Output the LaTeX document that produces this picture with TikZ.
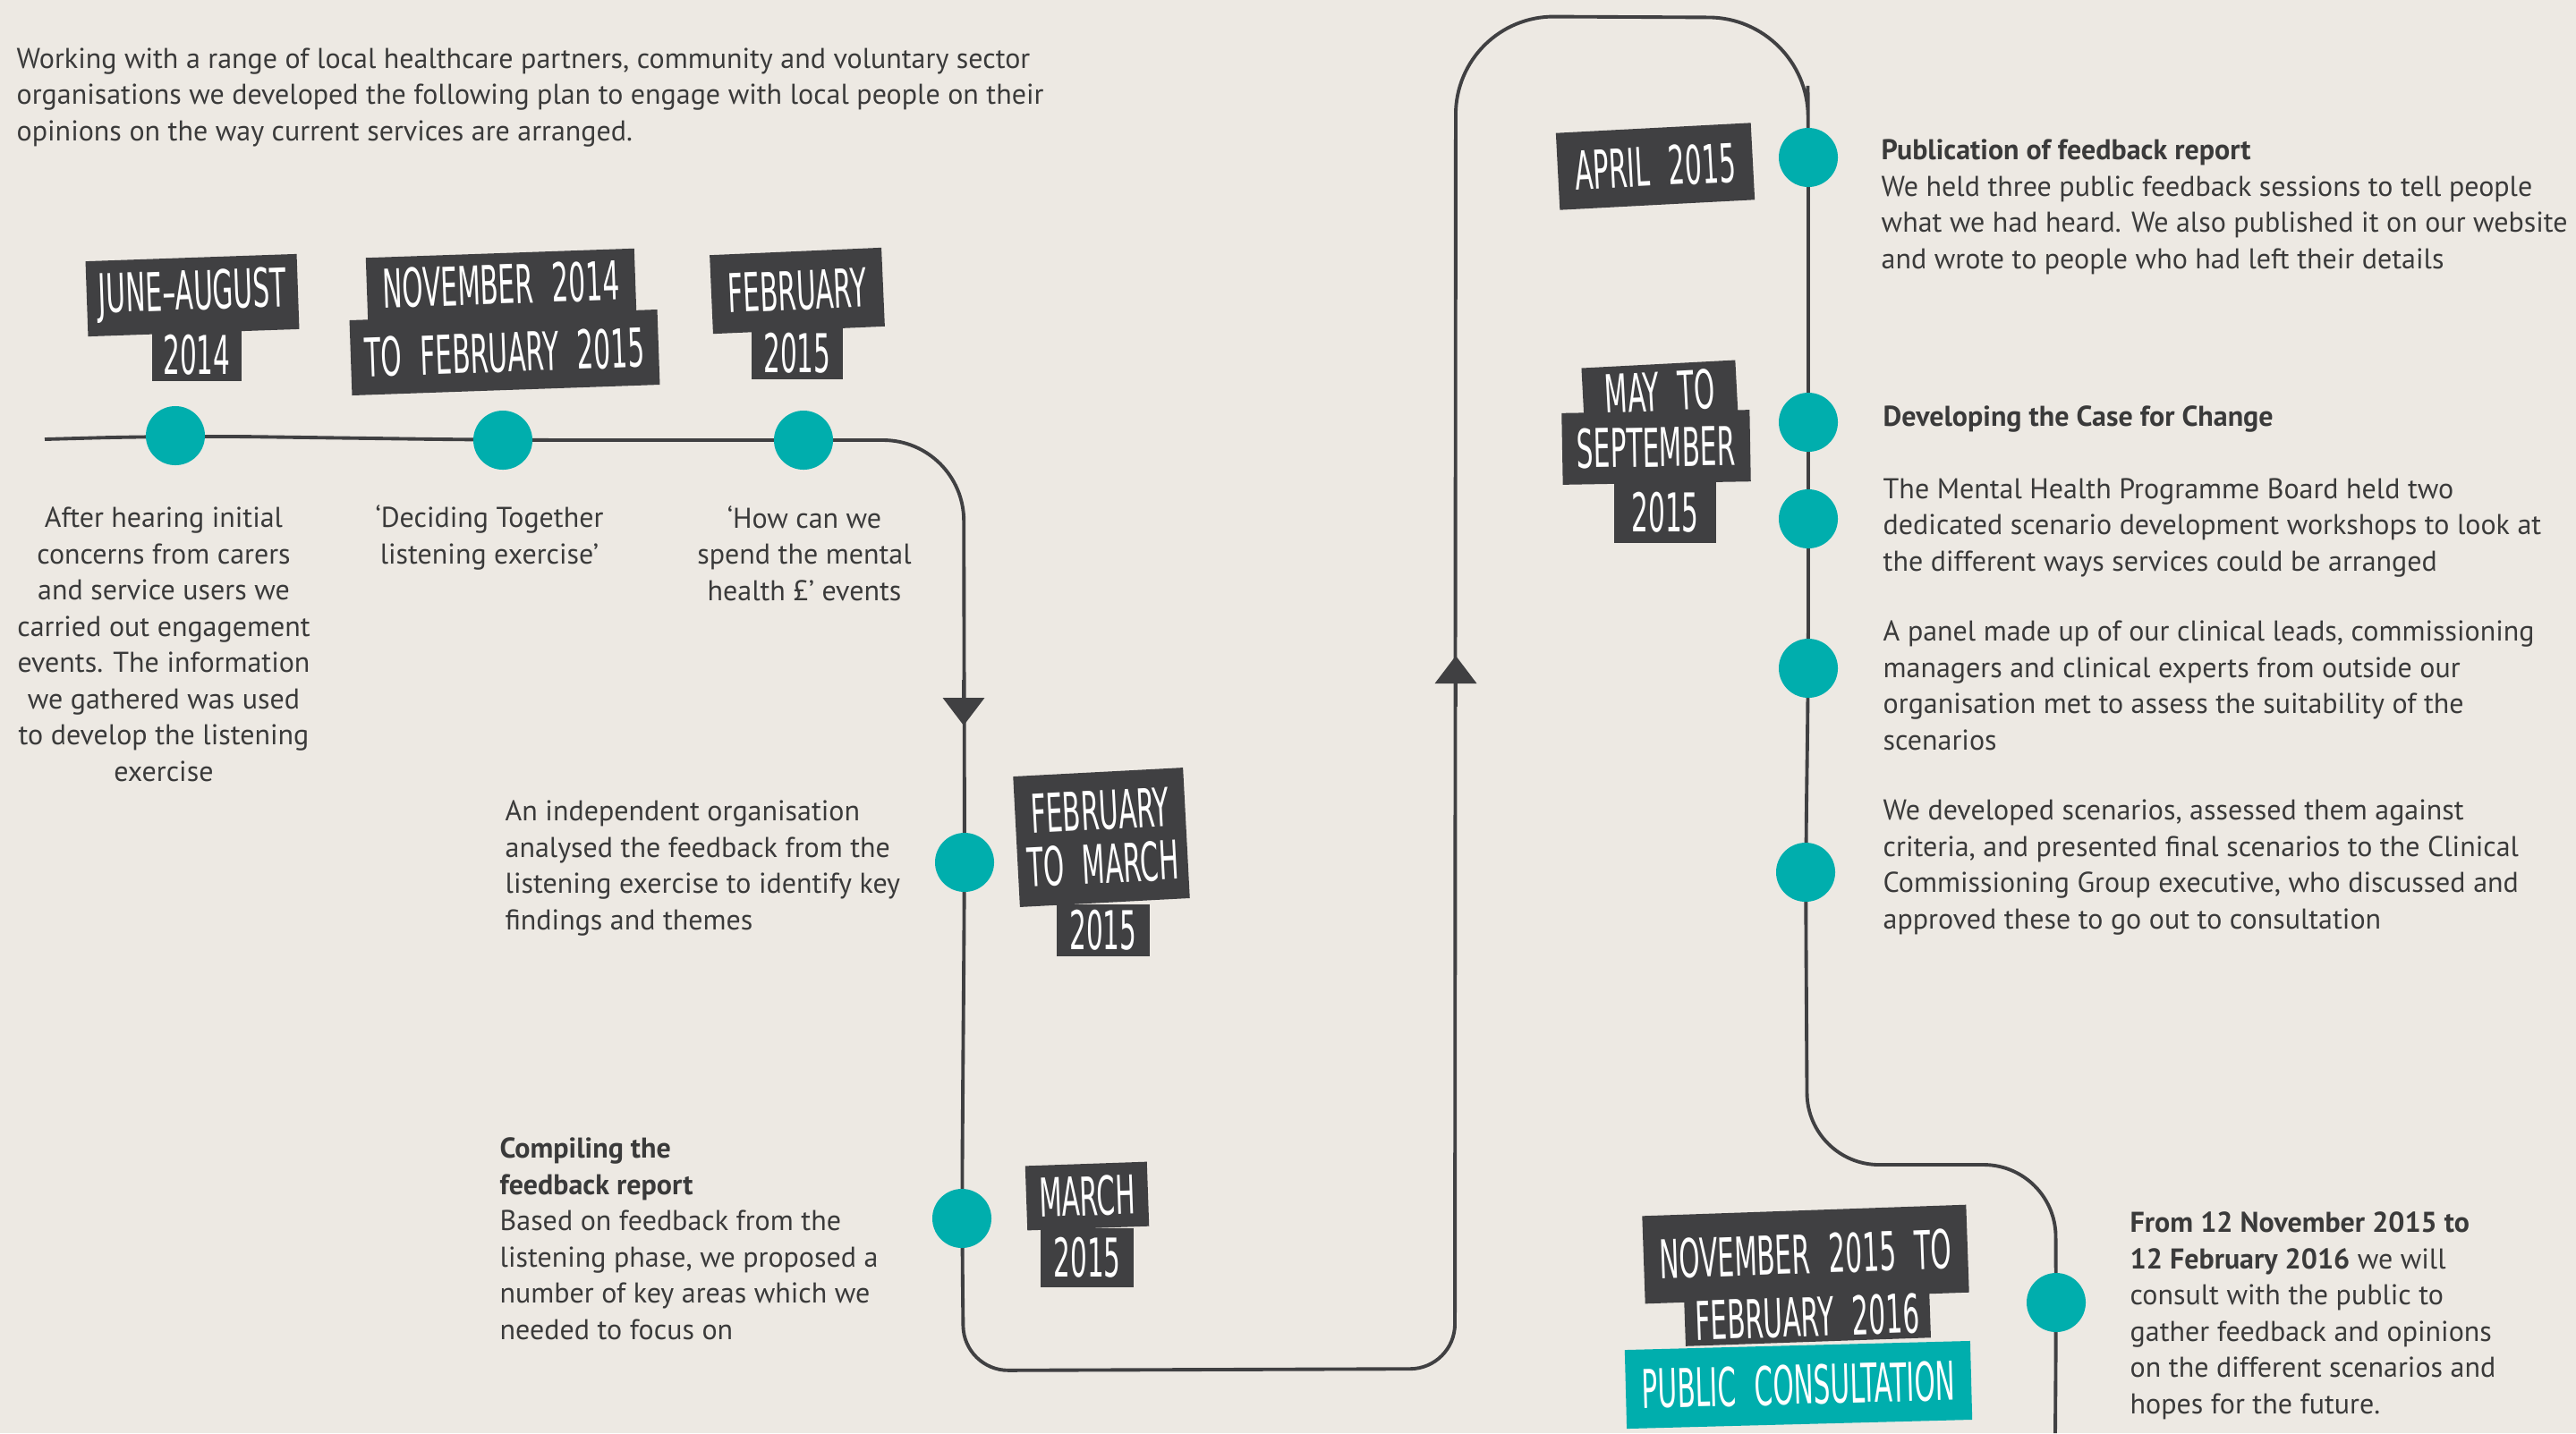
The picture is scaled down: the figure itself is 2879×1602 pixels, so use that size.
\documentclass[tikz,border=0pt]{standalone}
\usepackage{fontspec}
\setmainfont{PT Sans}
\newfontfamily\datefont[FakeStretch=0.55, WordSpace=2.2]{DejaVu Sans Condensed}
\usepackage{tikz}
\usetikzlibrary{positioning, arrows.meta, backgrounds}
\usepackage{xcolor}
\definecolor{page-bg}{HTML}{EDE9E3}
\definecolor{ccg-teal}{HTML}{00AEAD}
\definecolor{ccg-dark}{HTML}{404042}
\definecolor{ccg-text}{HTML}{3A3A3A}

\tikzset{
	blob/.style={circle, fill=ccg-teal, minimum size=6.6mm, inner sep=0pt},
	datebox/.style={fill=ccg-dark, text=white, inner sep=0pt, align=center,
		font=\datefont\fontsize{17}{17}\selectfont},
	consult/.style={datebox, fill=ccg-teal},
	timeline/.style={draw=ccg-dark, line width=1.1pt, rounded corners=9mm},
	flowtip/.style={draw=ccg-dark, line width=1.1pt, -{Triangle[width=4.6mm, length=3.1mm]}},
	body/.style={text=ccg-text, inner sep=0pt, font=\fontsize{9.1}{11.5}\selectfont}
}

\begin{document}
\begin{tikzpicture}[x=0.01cm, y=-0.01cm]
					\useasboundingbox (0,0) rectangle (2879,1602);
					
					\node[blob] at (196,487) (d1) {};
					\node[blob] at (562,492) (d2) {};
					\node[blob] at (898,492) (d3) {};
					\node[blob] at (1078,964) (d4) {};
					\node[blob] at (1075,1362) (d5) {};
					\node[blob] at (2021,176) (d6) {};
					\node[blob] at (2021,472) (d7) {};
					\node[blob] at (2021,580) (d8) {};
					\node[blob] at (2021,747) (d9) {};
					\node[blob] at (2018,975) (d10) {};
					\node[blob] at (2298,1456) (d11) {};
					
					\coordinate (start) at (50,491);
					\coordinate (c1) at (1077,492);
					\coordinate (c2) at (1077,1532);
					\coordinate (c3) at (1626,1530);
					\coordinate (c4) at (1627,18);
					\coordinate (c5) at (2020,20);
					\coordinate (c6) at (2020,1302);
					\coordinate (c7) at (2297,1302);
					\coordinate (end) at (2297,1602);
					\coordinate (down1) at (1077,760);
					\coordinate (down2) at (1077,811);
					\coordinate (up1) at (1627,790);
					\coordinate (up2) at (1627,733);
					
					\begin{scope}[on background layer]
						\fill[page-bg] (0,0) rectangle (2879,1602);
						\draw[timeline] (start) -- (d1.center) -- (d2.center) -- (d3.center) -- (c1)
							-- (d4.center) -- (d5.center) [rounded corners=5mm] -- (c2) -- (c3)
							[rounded corners=11mm] -- (c4) -- (c5) [rounded corners=8mm]
							-- (d6.center) -- (d7.center) -- (d8.center) -- (d9.center) -- (d10.center)
							-- (c6) -- (c7) -- (d11.center) -- (end);
						\draw[flowtip] (down1) -- (down2);
						\draw[flowtip] (up1) -- (up2);
					\end{scope}
					
					% date labels
					\node[datebox, minimum width=10mm, minimum height=5.8mm] at (220,397) (jun-yr) {2014};
					\node[datebox, rotate=2, minimum width=23.6mm, minimum height=8.4mm] at (215,330) (jun) {JUNE–AUGUST};
					\node[datebox, rotate=2, minimum width=30mm, minimum height=7mm] at (560,318) (nov) {NOVEMBER 2014};
					\node[datebox, rotate=2, minimum width=34.4mm, minimum height=8.4mm] at (564,394) (nov-to) {TO FEBRUARY 2015};
					\node[datebox, minimum width=10.2mm, minimum height=5.8mm] at (891,395) (feb-yr) {2015};
					\node[datebox, rotate=2.5, minimum width=19.2mm, minimum height=8.8mm] at (891,325) (feb) {FEBRUARY};
					\node[datebox, minimum width=10.3mm, minimum height=5.8mm] at (1233,1040) (febmar-yr) {2015};
					\node[datebox, rotate=3, minimum width=19mm, minimum height=14.6mm] at (1231,936) (febmar) {FEBRUARY\\TO MARCH};
					\node[datebox, minimum width=10.3mm, minimum height=6.6mm] at (1215,1406) (mar-yr) {2015};
					\node[datebox, rotate=2, minimum width=13.6mm, minimum height=7.2mm] at (1215,1337) (mar) {MARCH};
					\node[datebox, rotate=3, minimum width=21.8mm, minimum height=8.6mm] at (1850,186) (apr) {APRIL 2015};
					\node[datebox, rotate=3, minimum width=17.2mm, minimum height=6.2mm] at (1855,438) (may) {MAY TO};
					\node[datebox, minimum width=11.4mm, minimum height=6.8mm] at (1861,573) (sep-yr) {2015};
					\node[datebox, rotate=1, minimum width=21mm, minimum height=8mm] at (1851,500) (sep) {SEPTEMBER};
					\node[datebox, rotate=2, minimum width=36.2mm, minimum height=9.8mm] at (2018,1402) (nov15) {NOVEMBER 2015 TO};
					\node[datebox, rotate=2, minimum width=27.4mm, minimum height=5.6mm] at (2020,1472) (feb16) {FEBRUARY 2016};
					\node[consult, rotate=1.5, minimum width=38.6mm, minimum height=8.8mm] at (2010,1548) (pub) {PUBLIC CONSULTATION};
					
					% texts (base = last line)
					\node[body, anchor=base west, align=left] at (18,157) (intro) {Working with a range of local healthcare partners, community and voluntary sector\\organisations we developed the following plan to engage with local people on their\\opinions on the way current services are arranged.};
					\node[body, anchor=base, align=center] at (183,873) (jun-txt) {After hearing initial\\concerns from carers\\and service users we\\carried out engagement\\events. The information\\we gathered was used\\to develop the listening\\exercise};
					\node[body, anchor=base, align=center] at (547,630) (nov-txt) {‘Deciding Together\\listening exercise’};
					\node[body, anchor=base, align=center] at (899,671) (feb-txt) {‘How can we\\spend the mental\\health £’ events};
					\node[body, anchor=base west, align=left] at (564,1039) (febmar-txt) {An independent organisation\\analysed the feedback from the\\listening exercise to identify key\\findings and themes};
					\node[body, anchor=base west, align=left] at (558,1497) (mar-txt) {\textbf{Compiling the}\\\textbf{feedback report}\\Based on feedback from the\\listening phase, we proposed a\\number of key areas which we\\needed to focus on};
					\node[body, anchor=base west, align=left] at (2102,300) (apr-txt) {\textbf{Publication of feedback report}\\We held three public feedback sessions to tell people\\what we had heard. We also published it on our website\\and wrote to people who had left their details};
					\node[body, anchor=base west, align=left] at (2104,476) (case-txt) {\textbf{Developing the Case for Change}};
					\node[body, anchor=base west, align=left] at (2104,638) (board-txt) {The Mental Health Programme Board held two\\dedicated scenario development workshops to look at\\the different ways services could be arranged};
					\node[body, anchor=base west, align=left] at (2104,838) (panel-txt) {A panel made up of our clinical leads, commissioning\\managers and clinical experts from outside our\\organisation met to assess the suitability of the\\scenarios};
					\node[body, anchor=base west, align=left] at (2104,1038) (scen-txt) {We developed scenarios, assessed them against\\criteria, and presented final scenarios to the Clinical\\Commissioning Group executive, who discussed and\\approved these to go out to consultation};
					\node[body, anchor=base west, align=left] at (2380,1580) (pub-txt) {\textbf{From 12 November 2015 to}\\\textbf{12 February 2016} we will\\consult with the public to\\gather feedback and opinions\\on the different scenarios and\\hopes for the future.};
				\end{tikzpicture}
\end{document}
